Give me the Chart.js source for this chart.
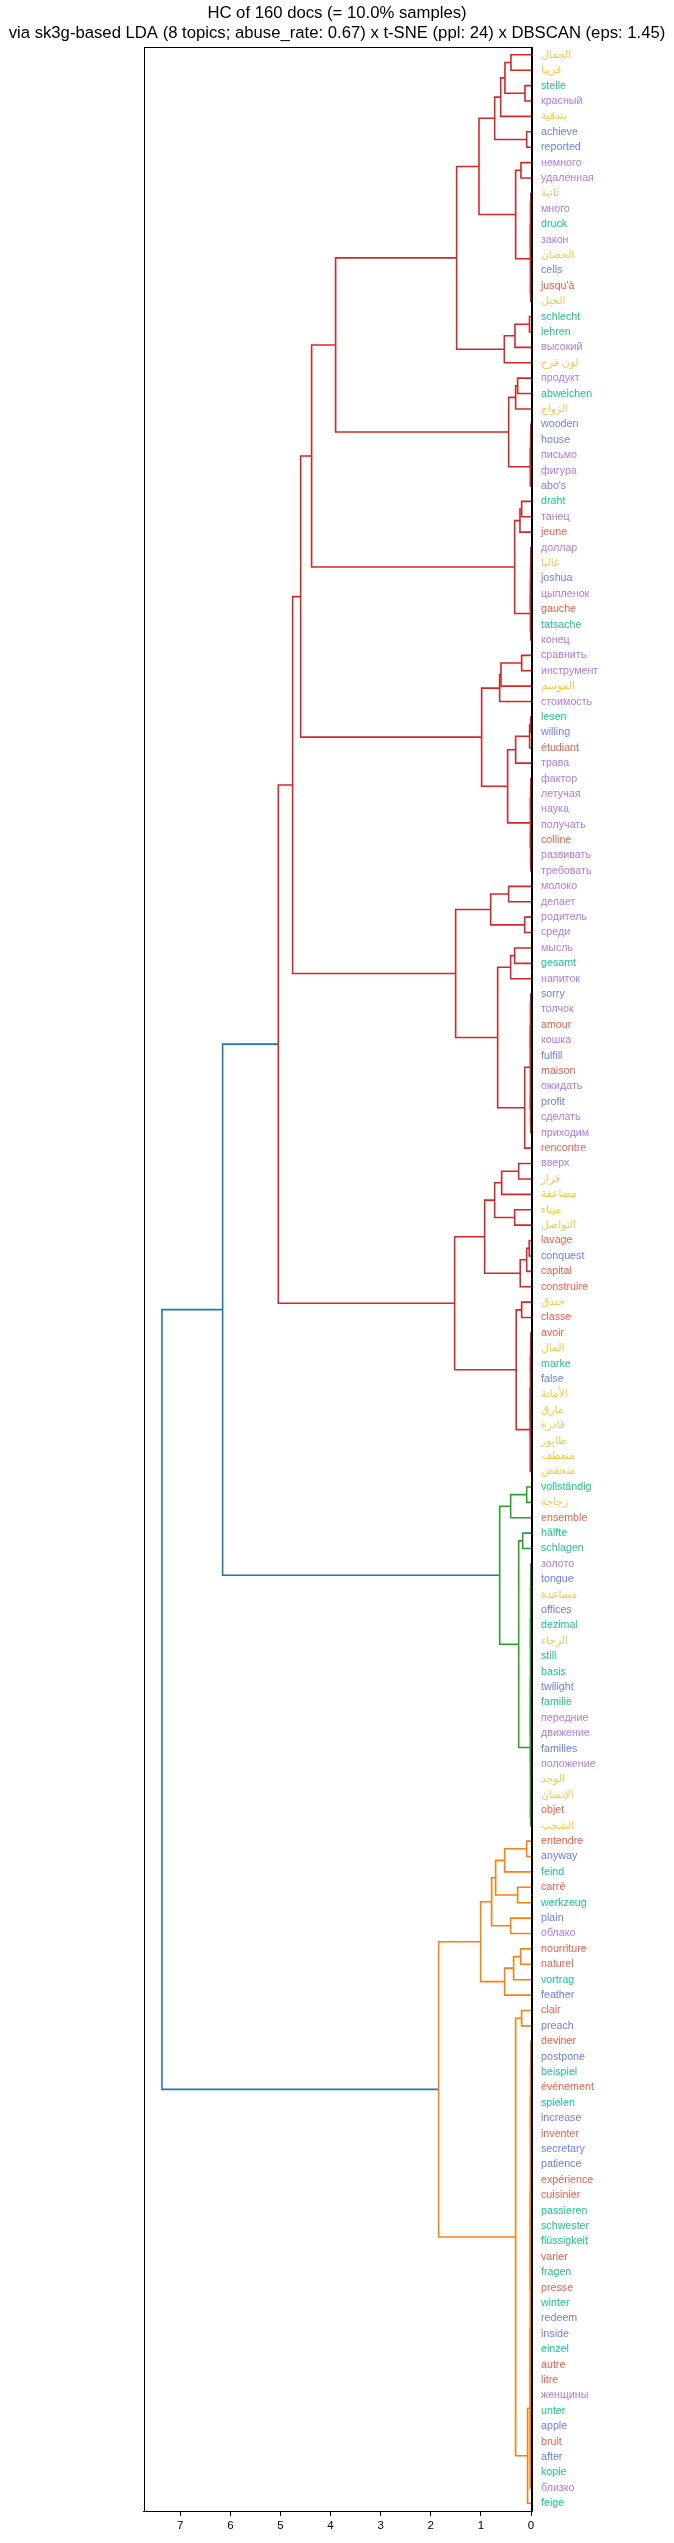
<!DOCTYPE html>
<html><head><meta charset="utf-8">
<script src="https://cdn.jsdelivr.net/npm/chart.js@4.4.1/dist/chart.umd.min.js"></script>
<style>html,body{margin:0;padding:0;background:#fff;}#wrap{width:674px;height:2543px;}</style>
</head><body><div id="wrap"><canvas id="c" width="674" height="2543"></canvas></div>
<script>
// ---------- DATA ----------
const titleLines = ["HC of 160 docs (= 10.0% samples)",
  "via sk3g-based LDA (8 topics; abuse_rate: 0.67) x t-SNE (ppl: 24) x DBSCAN (eps: 1.45)"];

// leaves, top to bottom
const leafLabels = [
 "الجمال","قريبا","stelle","красный","بندقية","achieve","reported","немного","удаленная","ثانية",
 "много","druck","закон","الحصان","cells","jusqu'à","الجبل","schlecht","lehren","высокий",
 "لون فرح","продукт","abweichen","الزواج","wooden","house","письмо","фигура","abo's","draht",
 "танец","jeune","доллар","غالبا","joshua","цыпленок","gauche","tatsache","конец","сравнить",
 "инструмент","الموسم","стоимость","lesen","willing","étudiant","трава","фактор","летучая","наука",
 "получать","colline","развивать","требовать","молоко","делает","родитель","среди","мысль","gesamt",
 "напиток","sorry","толчок","amour","кошка","fulfill","maison","ожидать","profit","сделать",
 "приходим","rencontre","вверх","قرار","مضاعفة","ميناء","التواصل","lavage","conquest","capital",
 "construire","خندق","classe","avoir","المال","marke","false","الأمانة","مارق","قادرة",
 "طابور","منعطف","منخفض","vollständig","زجاجة","ensemble","hälfte","schlagen","золото","tongue",
 "مساعدة","offices","dezimal","الرجاء","still","basis","twilight","familie","передние","движение",
 "families","положение","الوجد","الإنسان","objet","الشجب","entendre","anyway","feind","carré",
 "werkzeug","plain","облако","nourriture","naturel","vortrag","feather","clair","preach","deviner",
 "postpone","beispiel","événement","spielen","increase","inventer","secretary","patience","expérience","cuisinier",
 "passieren","schwester","flüssigkeit","varier","fragen","presse","winter","redeem","inside","einzel",
 "autre","litre","женщины","unter","apple","bruit","after","kopie","близко","feige"];

const leafLangs = [
 "ar","ar","de","ru","ar","en","en","ru","ru","ar",
 "ru","de","ru","ar","en","fr","ar","de","de","ru",
 "ar","ru","de","ar","en","en","ru","ru","en","de",
 "ru","fr","ru","ar","en","ru","fr","de","ru","ru",
 "ru","ar","ru","de","en","fr","ru","ru","ru","ru",
 "ru","fr","ru","ru","ru","ru","ru","ru","ru","de",
 "ru","en","ru","fr","ru","en","fr","ru","en","ru",
 "ru","fr","ru","ar","ar","ar","ar","fr","en","fr",
 "fr","ar","fr","fr","ar","de","en","ar","ar","ar",
 "ar","ar","ar","de","ar","fr","de","de","ru","en",
 "ar","en","de","ar","de","de","en","de","ru","ru",
 "en","ru","ar","ar","fr","ar","fr","en","de","fr",
 "de","en","ru","fr","fr","de","en","fr","en","fr",
 "en","de","fr","de","en","fr","en","en","fr","fr",
 "de","de","de","fr","de","fr","de","en","en","de",
 "fr","fr","ru","de","en","fr","en","de","ru","de"];

const langColors = {ar:"#ffc84a", de:"#1ec98c", ru:"#b07cf2", en:"#6f7dff", fr:"#f2604c"};

const xTickValues = [0,1,2,3,4,5,6,7];

// linkage as nested merges: [upper child, lower child, height]; numbers are leaf indices
const clusterA0   = [[[[0,1,0.40],[2,3,0.12],0.52],4,0.605],[5,6,0.086],0.725];
const cluster9    = [[[9,10,0.004],[[11,12,0.003],[13,14,0.005],0.008],0.011],[15,16,0.006],0.014];
const clusterB1   = [[[17,18,0.03],19,0.32],20,0.532];
const cluster24   = [[[24,25,0.004],[26,27,0.006],0.009],28,0.013];
const clusterC1   = [[[21,22,0.266],23,0.306],cluster24,0.446];
const clusterT1   = [[[clusterA0,[[7,8,0.20],cluster9,0.306],1.038],clusterB1,1.484],clusterC1,3.899];
const cluster32   = [[[[[32,33,0.003],34,0.006],35,0.008],36,0.011],[37,38,0.005],0.014];
const clusterT2   = [[[29,30,0.186],31,0.22],cluster32,0.326];
const cluster47   = [[[47,48,0.004],49,0.007],[[50,51,0.003],[52,53,0.005],0.009],0.013];
const clusterT3   = [[[[39,40,0.186],41,0.599],42,0.625],[[[[43,44,0.005],45,0.027],46,0.306],cluster47,0.466],0.985];
const cluster61   = [[[61,62,0.004],[[63,64,0.003],[65,66,0.005],0.008],0.011],[[67,68,0.004],[69,70,0.006],0.009],0.014];
const clusterT4   = [[[54,55,0.446],[56,57,0.126],0.805],[[[58,59,0.326],60,0.406],[cluster61,71,0.126],0.665],1.504];
const cluster83   = [[[[83,84,0.003],[85,86,0.005],0.008],[[87,88,0.004],[89,[90,91,0.003],0.006],0.009],0.012],92,0.015];
const clusterT5   = [[[[[72,73,0.246],74,0.585],[75,76,0.326],0.725],[[[77,78,0.035],79,0.086],80,0.215],0.925],[[81,82,0.186],cluster83,0.295],1.524];
const redTree     = [[[[clusterT1,clusterT2,4.378],clusterT3,4.597],clusterT4,4.757],clusterT5,5.043];

const cluster98   = [[[[[98,99,0.003],[100,101,0.004],0.006],[[102,103,0.003],[104,105,0.005],0.007],0.009],
                      [[[106,107,0.004],[108,109,0.003],0.006],[110,[111,[112,113,0.002],0.004],0.007],0.008],0.011],
                     [114,115,0.006],0.014];
const greenTree   = [[[93,94,0.086],95,0.406],[[96,97,0.166],cluster98,0.246],0.625];

const cluster129X = [[[129,130,0.003],[131,132,0.004],0.006],[[133,134,0.003],[135,136,0.005],0.007],0.009];
const cluster129Y = [[[[137,138,0.003],[139,140,0.004],0.006],[[141,142,0.003],[143,[144,145,0.002],0.004],0.006],0.008],
                     [[[146,147,0.003],[148,149,0.004],0.006],[[150,151,0.003],[[152,153,0.002],[154,155,0.003],0.005],0.006],0.008],0.010];
const cluster129  = [[[cluster129X,cluster129Y,0.012],[156,157,0.004],0.014],158,0.016];
const orangeTree  = [[[[[[116,117,0.086],118,0.526],[119,120,0.266],0.705],[121,122,0.406],0.785],[[[123,124,0.206],125,0.346],126,0.526],1.005],
                     [[127,128,0.186],[cluster129,159,0.067],0.306],1.843];

const rootTree    = [[redTree,greenTree,6.154],orangeTree,7.365];

const clusterPalette = ["#d62728","#2ca02c","#ff7f0e"];
const aboveColor = "#1f77b4";

// ---------- BUILD LINKS FROM THE LINKAGE ----------
const rootHeight = rootTree[2];
const threshold = 0.7 * rootHeight;
let paletteIdx = 0;
const links = [];
function walk(node, color) {
  if (typeof node === "number") return {y: node * 10 + 5, h: 0};
  const h = node[2];
  let c = color;
  if (!c && h < threshold) c = clusterPalette[paletteIdx++ % clusterPalette.length];
  const a = walk(node[0], c), b = walk(node[1], c);
  links.push({color: c || aboveColor,
    pts: [{x: a.h, y: a.y}, {x: h, y: a.y}, {x: h, y: b.y}, {x: b.h, y: b.y}]});
  return {y: (a.y + b.y) / 2, h};
}
walk(rootTree, null);

const FONT = "'Liberation Sans', Arial, 'DejaVu Sans', sans-serif";
const datasets = links.map(l => ({
  xAxisID: "x", yAxisID: "y",
  data: l.pts, showLine: true, borderColor: l.color, borderWidth: 1.6,
  pointRadius: 0, pointHoverRadius: 0, tension: 0, fill: false
}));

const framePlugin = {
  id: "frame",
  afterDraw(chart) {
    const {ctx, chartArea: a} = chart;
    ctx.save();
    ctx.strokeStyle = "#000"; ctx.lineWidth = 1;
    ctx.strokeRect(Math.round(a.left) + 0.5, Math.round(a.top) + 0.5,
                   Math.round(a.right - a.left), Math.round(a.bottom - a.top));
    ctx.restore();
  }
};

new Chart(document.getElementById("c"), {
  type: "scatter",
  data: {datasets},
  options: {
    responsive: false, animation: false, devicePixelRatio: 1,
    layout: {padding: 0},
    plugins: {
      legend: {display: false}, tooltip: {enabled: false},
      title: {display: true, text: titleLines, color: "#000",
        font: {family: FONT, size: 16.7, weight: "normal", lineHeight: 1.2},
        padding: {top: 3, bottom: 4}}
    },
    scales: {
      x: {
        type: "linear", position: "bottom", reverse: true, min: 0, max: rootHeight * 1.05,
        afterBuildTicks: s => { s.ticks = xTickValues.map(v => ({value: v})); },
        afterFit: s => { s.height = 32; },
        grid: {display: true, drawOnChartArea: false, drawTicks: true, tickLength: 5, color: "#000", tickColor: "#000", tickWidth: 1},
        border: {display: true, color: "#000", width: 1},
        ticks: {color: "#000", font: {family: FONT, size: 11.5}, padding: 3, maxRotation: 0, autoSkip: false}
      },
      y: {
        type: "linear", position: "right", reverse: true, min: 0, max: leafLabels.length * 10,
        afterBuildTicks: s => { s.ticks = leafLabels.map((_, i) => ({value: i * 10 + 5})); },
        afterFit: s => { s.width = 674 - 531; },
        grid: {display: false, drawTicks: false},
        border: {display: true, color: "#000", width: 1},
        ticks: {autoSkip: false, padding: 10, font: {family: FONT, size: 10.7},
          callback: (v, i) => leafLabels[i],
          color: ctx => langColors[leafLangs[ctx.index]] || "#000"}
      },
      yLeftSpace: {
        type: "linear", position: "left", min: 0, max: 1, display: true,
        afterFit: s => { s.width = 143.5; },
        grid: {display: false, drawTicks: false},
        border: {display: false},
        ticks: {display: false}
      }
    }
  },
  plugins: [framePlugin]
});
</script></body></html>
